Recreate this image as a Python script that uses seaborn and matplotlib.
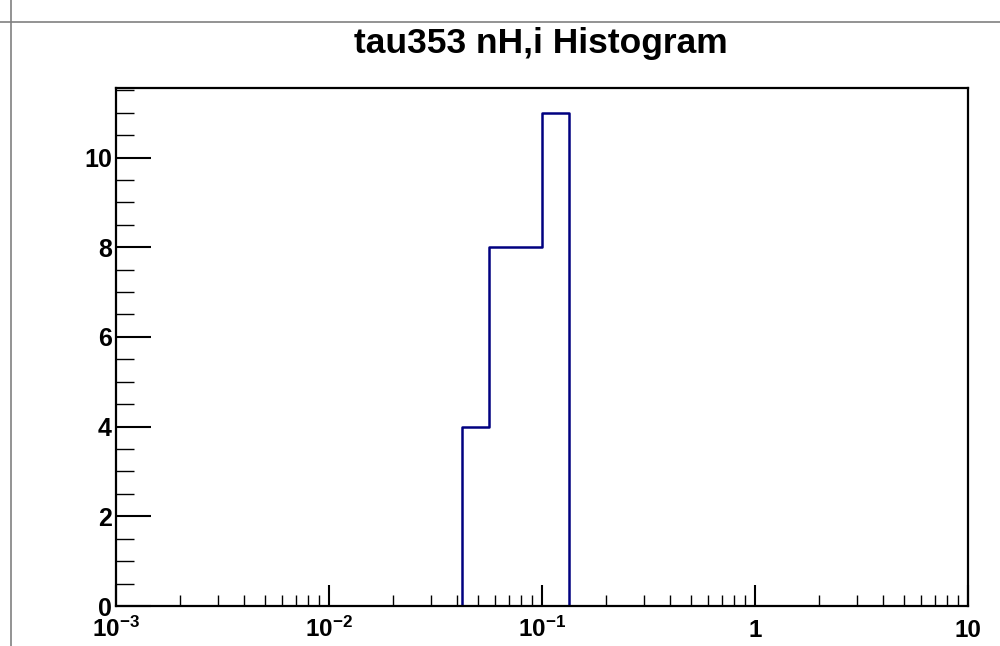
import numpy as np
import pandas as pd
import matplotlib
matplotlib.use("Agg")
import matplotlib.pyplot as plt
from matplotlib.ticker import LogLocator, MultipleLocator, NullFormatter
import seaborn as sns

# Histogram contents: representative nH,i value of each filled bin and its count
nh_values = [0.0487, 0.0649, 0.0866, 0.1155]
counts = [4, 8, 8, 11]

# 32 logarithmic bins spanning 1e-3 .. 10 (binrange given in log10 units)
n_bins = 32
log_range = (-3, 1)

title = "tau353 nH,i Histogram"
x_tick_values = [1e-3, 1e-2, 1e-1, 1, 10]
x_tick_labels = [r"$\mathbf{10^{-3}}$", r"$\mathbf{10^{-2}}$", r"$\mathbf{10^{-1}}$", "1", "10"]
y_tick_values = [0, 2, 4, 6, 8, 10]

sns.set_theme(style="white")
plt.rcParams["font.family"] = ["Liberation Sans", "DejaVu Sans"]
plt.rcParams["mathtext.fontset"] = "custom"
plt.rcParams["mathtext.rm"] = "Liberation Sans"
plt.rcParams["mathtext.bf"] = "Liberation Sans:bold"
plt.rcParams["text.color"] = "black"
plt.rcParams["xtick.color"] = "black"
plt.rcParams["ytick.color"] = "black"

df = pd.DataFrame({"nh": nh_values, "count": counts})

fig = plt.figure(figsize=(10, 6.46), dpi=100)
ax = fig.add_axes([0.116, 0.0619, 0.852, 0.8019])

sns.histplot(data=df, x="nh", weights="count", bins=n_bins, binrange=log_range,
             log_scale=True, element="step", fill=False, color="#000080",
             linewidth=1.8, ax=ax)

ax.set_xlim(1e-3, 10)
ax.set_ylim(0, max(counts) * 1.05)
ax.set_xlabel("")
ax.set_ylabel("")

# Frame
for sp in ax.spines.values():
    sp.set_visible(True)
    sp.set_color("black")
    sp.set_linewidth(1.6)

# Ticks: inward, on left and bottom only
ax.set_xticks(x_tick_values)
ax.set_xticklabels(x_tick_labels)
ax.xaxis.set_minor_locator(LogLocator(base=10, subs=np.arange(2, 10)))
ax.xaxis.set_minor_formatter(NullFormatter())
ax.set_yticks(y_tick_values)
ax.set_yticklabels([str(v) for v in y_tick_values])
ax.yaxis.set_minor_locator(MultipleLocator(0.5))

ax.tick_params(which="both", direction="in", top=False, right=False,
               bottom=True, left=True, color="black")
ax.tick_params(which="major", width=1.5)
ax.tick_params(which="minor", width=1.0)
ax.tick_params(axis="x", which="major", length=15, pad=22.5, labelsize=17.5)
ax.tick_params(axis="x", which="minor", length=8)
ax.tick_params(axis="y", which="major", length=25, pad=3, labelsize=18)
ax.tick_params(axis="y", which="minor", length=13)

for lbl in ax.get_xticklabels():
    lbl.set_verticalalignment("baseline")
    lbl.set_fontweight("bold")
for lbl in ax.get_yticklabels():
    lbl.set_fontweight("bold")

# Title
fig.text(0.541, 1 - 53 / 646, title, ha="center", va="baseline",
         fontsize=25.5, fontweight="bold")

# Pad borders
fig.add_artist(plt.Line2D([0, 1], [1 - 22 / 646, 1 - 22 / 646], color="#808080", linewidth=1.2))
fig.add_artist(plt.Line2D([0.0105, 0.0105], [0, 1], color="#808080", linewidth=1.2))

fig.savefig("out.png", dpi=100, facecolor="white")
